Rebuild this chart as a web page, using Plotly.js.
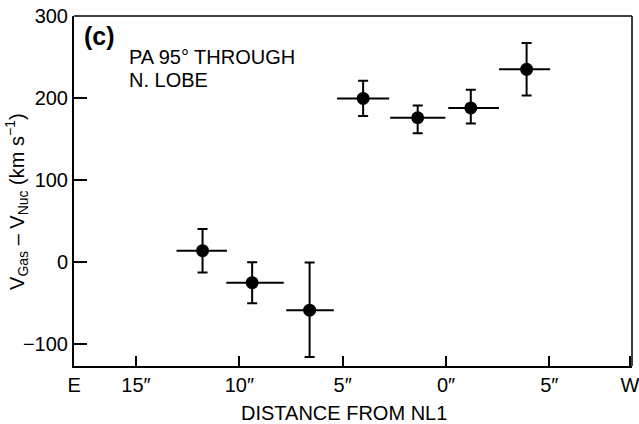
<!DOCTYPE html>
<html>
<head>
<meta charset="utf-8">
<script src="https://cdn.plot.ly/plotly-3.0.1.min.js"></script>
<style>html,body{margin:0;padding:0;background:#fff;}#chart{width:639px;height:424px;}</style>
</head>
<body>
<div id="chart"></div>
<script>
// Offsets in arcsec (west positive), velocity differences in km/s
const distance = [-11.78, -9.38, -6.6, -4.01, -1.37, 1.2, 3.9];
const velocity = [14, -25, -58.5, 199.5, 176, 188, 235];
const velErrUp = [26.5, 25, 58, 21.5, 15, 22, 32];
const velErrDown = [26.5, 25, 57, 21.5, 19, 19, 32];
const distErrPlus = [1.18, 1.53, 1.17, 1.26, 1.34, 1.36, 1.14];
const distErrMinus = [1.26, 1.25, 1.13, 1.26, 1.33, 1.09, 1.33];

const xTickVals = [-17.99, -15, -10, -5, 0, 5, 8.9];
const xTickText = ["E", "15″", "10″", "5″", "0″", "5″", "W"];
const yTickVals = [-100, 0, 100, 200, 300];

const font = "'Liberation Sans', Arial, Helvetica, sans-serif";

const trace = {
  x: distance,
  y: velocity,
  mode: "markers",
  type: "scatter",
  marker: {color: "#000", size: 13, symbol: "circle"},
  error_y: {type: "data", symmetric: false, array: velErrUp, arrayminus: velErrDown,
            color: "#000", thickness: 2, width: 5},
  error_x: {type: "data", symmetric: false, array: distErrPlus, arrayminus: distErrMinus,
            color: "#000", thickness: 2, width: 0},
  hoverinfo: "skip"
};

const layout = {
  width: 639, height: 424,
  margin: {l: 74, r: 7, t: 16, b: 58},
  paper_bgcolor: "#fff", plot_bgcolor: "#fff",
  showlegend: false,
  font: {family: font, color: "#000", size: 20},
  xaxis: {
    range: [-18.0, 9.0],
    tickmode: "array", tickvals: xTickVals, ticktext: xTickText,
    ticks: "inside", ticklen: 10, tickwidth: 2, tickcolor: "#000",
    ticklabeloverflow: "allow",
    showline: true, linewidth: 2, linecolor: "#000",
    showgrid: false, zeroline: false,
    tickfont: {family: font, size: 20, color: "#000"}
  },
  yaxis: {
    range: [-126.5, 300],
    tickmode: "array", tickvals: yTickVals,
    ticks: "inside", ticklen: 13, tickwidth: 2, tickcolor: "#000",
    showline: true, linewidth: 2, linecolor: "#000",
    showgrid: false, zeroline: false,
    tickfont: {family: font, size: 20, color: "#000"}
  },
  shapes: [
    {type: "line", xref: "paper", yref: "paper", x0: 0, x1: 1, y0: 1, y1: 1, line: {color: "#000", width: 1.5}},
    {type: "line", xref: "paper", yref: "paper", x0: 1, x1: 1, y0: 0, y1: 1, line: {color: "#000", width: 1.5}}
  ],
  annotations: [
    {xref: "paper", yref: "paper", x: 0.015, y: 0.988, xanchor: "left", yanchor: "top", showarrow: false,
     text: "<b>(c)</b>", font: {family: font, size: 25, color: "#000"}},
    {xref: "paper", yref: "paper", x: 0.095, y: 0.92, xanchor: "left", yanchor: "top", showarrow: false,
     text: "PA 95° THROUGH", font: {family: font, size: 20, color: "#000"}},
    {xref: "paper", yref: "paper", x: 0.095, y: 0.853, xanchor: "left", yanchor: "top", showarrow: false,
     text: "N. LOBE", font: {family: font, size: 20, color: "#000"}},
    {xref: "paper", yref: "paper", x: 0.484, y: -0.098, xanchor: "center", yanchor: "top", showarrow: false,
     text: "DISTANCE FROM NL1", font: {family: font, size: 20, color: "#000"}},
    {xref: "paper", yref: "y", x: -0.102, y: 73.5, xanchor: "center", yanchor: "middle", showarrow: false,
     textangle: -90,
     text: "V<sub>Gas</sub> – V<sub>Nuc</sub> (km s<sup>−1</sup>)", font: {family: font, size: 20, color: "#000"}}
  ]
};

Plotly.newPlot("chart", [trace], layout, {displayModeBar: false, staticPlot: true});
</script>
</body>
</html>
